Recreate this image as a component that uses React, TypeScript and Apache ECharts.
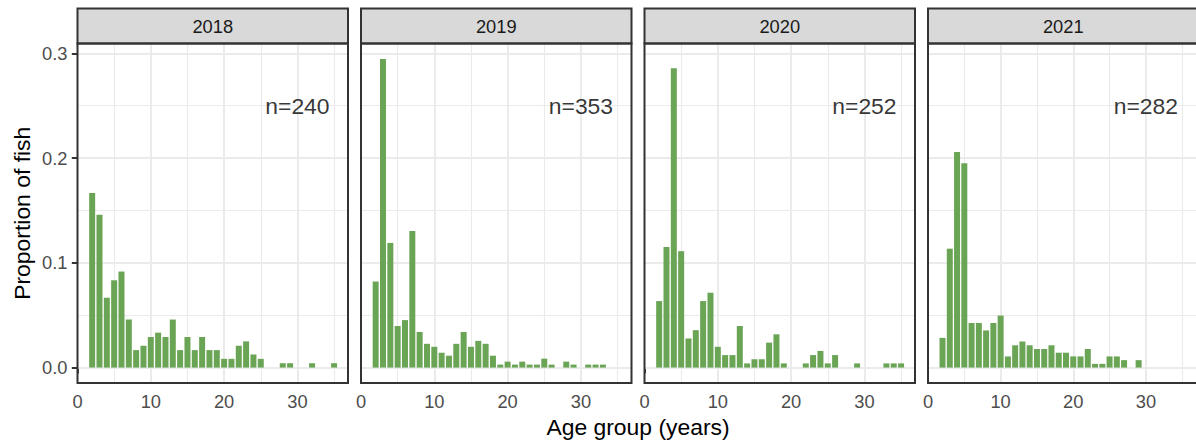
import { useEffect, useRef } from "react";
import * as echarts from "echarts";

// ---------- data ----------
const YEARS = ["2018", "2019", "2020", "2021"];

const AGES_2018 = [2, 3, 4, 5, 6, 7, 8, 9, 10, 11, 12, 13, 14, 15, 16, 17, 18, 19, 20, 21, 22, 23, 24, 25, 28, 29, 32, 35];
const COUNTS_2018 = [40, 35, 16, 20, 22, 11, 4, 5, 7, 8, 7, 11, 4, 7, 4, 7, 4, 4, 2, 2, 5, 6, 3, 2, 1, 1, 1, 1];

const AGES_2019 = [2, 3, 4, 5, 6, 7, 8, 9, 10, 11, 12, 13, 14, 15, 16, 17, 18, 19, 20, 21, 22, 23, 24, 25, 26, 28, 29, 31, 32, 33];
const COUNTS_2019 = [29, 104, 42, 14, 16, 46, 12, 8, 7, 5, 4, 8, 12, 7, 9, 8, 4, 1, 2, 1, 2, 1, 1, 3, 1, 2, 1, 1, 1, 1];

const AGES_2020 = [2, 3, 4, 5, 6, 7, 8, 9, 10, 11, 12, 13, 14, 15, 16, 17, 18, 19, 22, 23, 24, 25, 26, 29, 33, 34, 35];
const COUNTS_2020 = [16, 29, 72, 28, 7, 9, 16, 18, 5, 3, 3, 10, 1, 2, 2, 6, 8, 1, 1, 3, 4, 1, 3, 1, 1, 1, 1];

const AGES_2021 = [2, 3, 4, 5, 6, 7, 8, 9, 10, 11, 12, 13, 14, 15, 16, 17, 18, 19, 20, 21, 22, 23, 24, 25, 26, 27, 29];
const COUNTS_2021 = [8, 32, 58, 55, 12, 12, 10, 12, 14, 3, 6, 7, 6, 5, 5, 6, 4, 4, 3, 3, 5, 1, 1, 3, 3, 2, 2];

const SAMPLE_SIZES = [240, 353, 252, 282];

const X_TICKS = [0, 10, 20, 30];
const Y_TICKS = [0, 0.1, 0.2, 0.3];
const X_MAJOR_GRID = [10, 20, 30];
const X_MINOR_GRID = [5, 15, 25, 35];
const Y_MAJOR_GRID = [0, 0.1, 0.2, 0.3];
const Y_MINOR_GRID = [0.05, 0.15, 0.25];
const N_LABEL_X = 30;
const N_LABEL_Y = 0.25;

const X_LABEL = "Age group (years)";
const Y_LABEL = "Proportion of fish";

// ---------- layout / style ----------
const FONT = "'Liberation Sans', Arial, Helvetica, sans-serif";
const GREEN = "#6AA556";
const PANEL_LEFT = [77.5, 361, 644.5, 928];
const PANEL_TOP = 43.5;
const PANEL_W = 270.5;
const PANEL_H = 339.5;
const STRIP_TOP = 8.5;
const STRIP_H = 35;
const X_MIN = 0;
const X_MAX = 36.9;

const AGES = [AGES_2018, AGES_2019, AGES_2020, AGES_2021];
const COUNTS = [COUNTS_2018, COUNTS_2019, COUNTS_2020, COUNTS_2021];

export default function App() {
  const ref = useRef<HTMLDivElement>(null);

  useEffect(() => {
    document.body.style.margin = "0";
    if (!ref.current) return;
    const chart = echarts.init(ref.current, null, { renderer: "svg" });

    const props = COUNTS.map((c, i) => c.map((v) => v / SAMPLE_SIZES[i]));
    const yMaxData = Math.max(...props.flat());
    const Y_MIN = -0.05 * yMaxData;
    const Y_MAX = 1.05 * yMaxData;

    const gridLines = [
      ...X_MAJOR_GRID.map((v) => ({ xAxis: v, lineStyle: { width: 2 } })),
      ...X_MINOR_GRID.map((v) => ({ xAxis: v, lineStyle: { width: 1.1 } })),
      ...Y_MAJOR_GRID.map((v) => ({ yAxis: v, lineStyle: { width: 2 } })),
      ...Y_MINOR_GRID.map((v) => ({ yAxis: v, lineStyle: { width: 1.1 } })),
    ];

    const grids = PANEL_LEFT.map((l) => ({
      left: l,
      top: PANEL_TOP,
      width: PANEL_W,
      height: PANEL_H,
      show: false,
    }));

    const xAxes = PANEL_LEFT.map((_, i) => ({
      type: "value",
      gridIndex: i,
      min: X_MIN,
      max: X_MAX,
      axisLine: { show: false },
      splitLine: { show: false },
      axisTick: {
        show: true,
        customValues: X_TICKS,
        length: 5.7,
        lineStyle: { color: "#333333", width: 2 },
      },
      axisLabel: {
        customValues: X_TICKS,
        color: "#4D4D4D",
        fontSize: 18.3,
        fontFamily: FONT,
        margin: 9,
      },
    }));

    const yAxes = PANEL_LEFT.map((_, i) => ({
      type: "value",
      gridIndex: i,
      min: Y_MIN,
      max: Y_MAX,
      axisLine: { show: false },
      splitLine: { show: false },
      axisTick: {
        show: i === 0,
        customValues: Y_TICKS,
        length: 5.7,
        lineStyle: { color: "#333333", width: 2 },
      },
      axisLabel: {
        show: i === 0,
        customValues: Y_TICKS,
        formatter: (v: number) => v.toFixed(1),
        color: "#4D4D4D",
        fontSize: 18.3,
        fontFamily: FONT,
        margin: 10,
      },
    }));

    const series: any[] = [];
    YEARS.forEach((_, i) => {
      series.push({
        type: "bar",
        name: YEARS[i],
        xAxisIndex: i,
        yAxisIndex: i,
        z: 3,
        barWidth: 6,
        itemStyle: { color: GREEN },
        data: AGES[i].map((a, j) => [a, props[i][j]]),
        markLine: {
          silent: true,
          z: 1,
          symbol: ["none", "none"],
          label: { show: false },
          lineStyle: { color: "#EBEBEB", type: "solid" },
          emphasis: { disabled: true },
          data: gridLines,
        },
      });
      series.push({
        type: "scatter",
        xAxisIndex: i,
        yAxisIndex: i,
        z: 4,
        symbolSize: 0,
        silent: true,
        data: [[N_LABEL_X, N_LABEL_Y]],
        label: {
          show: true,
          position: "inside",
          formatter: () => `n=${SAMPLE_SIZES[i]}`,
          color: "#000000",
          fontSize: 22.9,
          fontFamily: FONT,
        },
      });
    });

    const graphic: any[] = [];
    PANEL_LEFT.forEach((l, i) => {
      graphic.push({
        type: "rect",
        z: 100,
        silent: true,
        shape: { x: l, y: STRIP_TOP, width: PANEL_W, height: STRIP_H },
        style: { fill: "#D9D9D9", stroke: "#333333", lineWidth: 2 },
      });
      graphic.push({
        type: "text",
        z: 101,
        silent: true,
        x: l + PANEL_W / 2,
        y: STRIP_TOP + STRIP_H / 2,
        style: {
          text: YEARS[i],
          fill: "#1A1A1A",
          font: `18.3px ${FONT}`,
          align: "center",
          verticalAlign: "middle",
        },
      });
      graphic.push({
        type: "rect",
        z: 100,
        silent: true,
        shape: { x: l, y: PANEL_TOP, width: PANEL_W, height: PANEL_H },
        style: { fill: "none", stroke: "#333333", lineWidth: 2 },
      });
    });
    graphic.push({
      type: "text",
      z: 101,
      silent: true,
      x: (PANEL_LEFT[0] + PANEL_LEFT[3] + PANEL_W) / 2,
      y: 427,
      style: {
        text: X_LABEL,
        fill: "#000000",
        font: `22.9px ${FONT}`,
        align: "center",
        verticalAlign: "middle",
      },
    });
    graphic.push({
      type: "text",
      z: 101,
      silent: true,
      x: 22,
      y: PANEL_TOP + PANEL_H / 2,
      rotation: Math.PI / 2,
      style: {
        text: Y_LABEL,
        fill: "#000000",
        font: `22.9px ${FONT}`,
        align: "center",
        verticalAlign: "middle",
      },
    });

    chart.setOption({
      animation: false,
      backgroundColor: "#FFFFFF",
      grid: grids,
      xAxis: xAxes,
      yAxis: yAxes,
      series,
      graphic,
    });

    return () => chart.dispose();
  }, []);

  return <div ref={ref} style={{ width: 1196, height: 442 }} />;
}
